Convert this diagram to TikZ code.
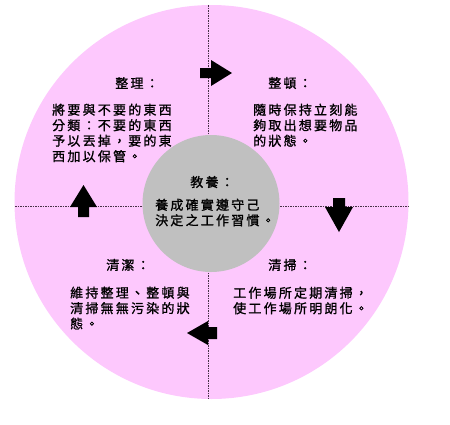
\documentclass[tikz,border=0pt]{standalone}
\usepackage{fontspec}
\newfontfamily\cjk{Noto Sans CJK TC}[LetterSpace=17,FakeBold=1.2]
\definecolor{pinkbg}{RGB}{253,200,253}
\definecolor{graybg}{RGB}{192,192,192}
\definecolor{lineclr}{RGB}{70,50,70}
\tikzset{
  txt/.style={inner sep=0pt, align=left, font=\cjk\fontsize{13}{15.5}\selectfont, text=black},
  ttl/.style={inner sep=0pt, font=\cjk\fontsize{13}{15.5}\selectfont, text=black},
  divider/.style={draw=lineclr, line width=0.7pt, dash pattern=on 1.6pt off 0.9pt},
  blockarrow/.style={fill=black, draw=none}
}
\begin{document}
\begin{tikzpicture}[x=1pt,y=-1pt]
\useasboundingbox (0,0) rectangle (450,424);
% outer disc
\node[circle, fill=pinkbg, minimum size=394pt, inner sep=0pt] (outer) at (211.5,202) {};
% dividers
\coordinate (vtop) at (208,5);
\coordinate (vbot) at (208,399);
\coordinate (hleft) at (15,206.5);
\coordinate (hright) at (408,206.5);
\draw[divider] (vtop) -- (vbot);
\draw[divider] (hleft) -- (hright);
% inner disc
\node[circle, fill=graybg, minimum size=137pt, inner sep=0pt] (inner) at (211,203.5) {};
% block arrows
\fill[blockarrow] (200,68) -- (211,68) -- (211,60) -- (232,73) -- (211,86) -- (211,78) -- (200,78) -- cycle;
\fill[blockarrow] (333,198) -- (345,198) -- (345,207) -- (353,207) -- (339,232) -- (325,207) -- (333,207) -- cycle;
\fill[blockarrow] (78,217) -- (89,217) -- (89,207) -- (97,207) -- (83.5,185) -- (70,207) -- (78,207) -- cycle;
\fill[blockarrow] (217,327) -- (217,339) -- (208,339) -- (208,345) -- (187,333) -- (208,321) -- (208,327) -- cycle;
% texts
\node[ttl] (t1) at (137,83) {整理：};
\node[txt, anchor=north west] (b1) at (52,103.5) {將要與不要的東西\\分類：不要的東西\\予以丟掉，要的東\\西加以保管。};
\node[ttl] (t2) at (290,83) {整頓：};
\node[txt, anchor=north west] (b2) at (253,103.5) {隨時保持立刻能\\夠取出想要物品\\的狀態。};
\node[ttl] (t0) at (212,182) {教養：};
\node[txt, anchor=north west] (b0) at (155,198.5) {養成確實遵守己\\決定之工作習慣。};
\node[ttl] (t4) at (128,265) {清潔：};
\node[txt, anchor=north west] (b4) at (70,286.5) {維持整理、整頓與\\清掃無無污染的狀\\態。};
\node[ttl] (t3) at (290,265) {清掃：};
\node[txt, anchor=north west] (b3) at (233,286.5) {工作場所定期清掃，\\使工作場所明朗化。};
\end{tikzpicture}
\end{document}
